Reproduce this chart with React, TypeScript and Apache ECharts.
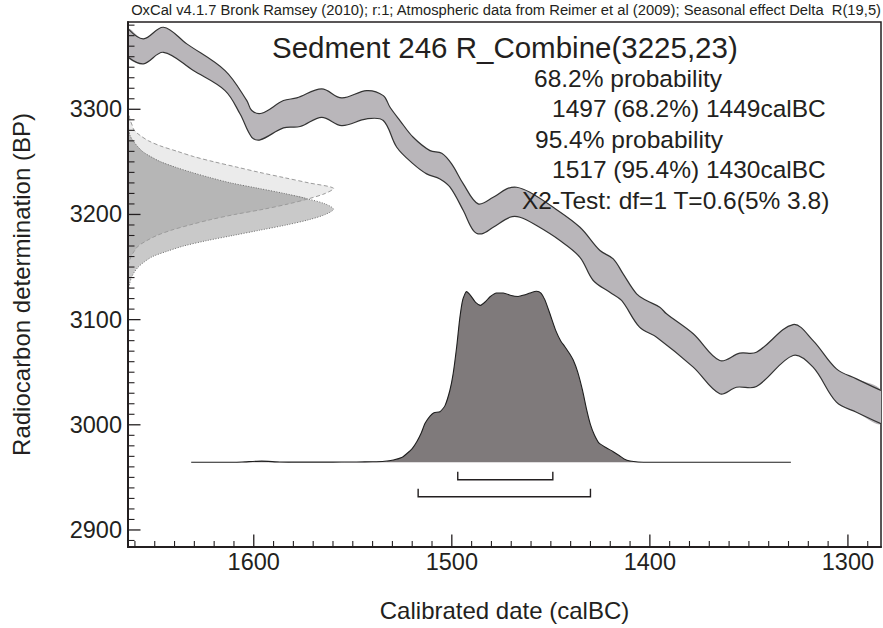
import React, { useEffect, useRef } from 'react';
import * as echarts from 'echarts';

// ---------- texts ----------
const headerText =
  'OxCal v4.1.7 Bronk Ramsey (2010); r:1; Atmospheric data from Reimer et al (2009); Seasonal effect Delta  R(19,5)';
const sampleTitle = 'Sedment 246 R_Combine(3225,23)';
const summaryLines = [
  '68.2% probability',
  '1497 (68.2%) 1449calBC',
  '95.4% probability',
  '1517 (95.4%) 1430calBC',
  'X2-Test: df=1 T=0.6(5% 3.8)',
];
const xAxisTitle = 'Calibrated date (calBC)';
const yAxisTitle = 'Radiocarbon determination (BP)';

// ---------- tick labels ----------
const xTickLabels = [1300, 1400, 1500, 1600];
const yTickLabels = [2900, 3000, 3100, 3200, 3300];

// ---------- calibration curve (1 sigma band), [year calBC, BP] ----------
const curveUpper: number[][] = [
  [1663.4, 3376.4], [1655.7, 3366.9], [1645.6, 3378.0], [1633.8, 3362.2], [1614.5, 3336.8],
  [1603.5, 3308.3], [1601.0, 3298.8], [1596.0, 3296.2], [1585.0, 3308.3], [1578.3, 3310.8],
  [1565.7, 3319.4], [1555.6, 3310.8], [1543.0, 3317.8], [1534.6, 3313.0], [1531.2, 3301.9],
  [1526.2, 3289.3], [1519.5, 3273.4], [1511.0, 3260.7], [1505.1, 3258.2], [1500.1, 3248.1],
  [1494.2, 3229.1], [1486.7, 3210.1], [1479.1, 3216.3], [1472.3, 3224.3], [1467.3, 3225.9],
  [1460.6, 3221.1], [1448.8, 3206.8], [1435.3, 3187.8], [1425.2, 3165.7], [1418.5, 3157.8],
  [1413.5, 3143.5], [1406.7, 3124.5], [1401.7, 3118.2], [1395.0, 3111.8], [1391.6, 3105.5],
  [1378.1, 3086.5], [1364.7, 3061.1], [1354.6, 3068.1], [1346.2, 3069.0], [1327.7, 3095.3],
  [1317.6, 3080.1], [1305.8, 3053.2], [1295.7, 3043.7], [1283.3, 3032.6],
];
const curveLower: number[][] = [
  [1663.4, 3349.4], [1655.7, 3343.2], [1645.6, 3354.2], [1630.5, 3336.8], [1614.5, 3317.8],
  [1606.9, 3295.5], [1601.0, 3273.4], [1596.8, 3270.9], [1585.0, 3282.3], [1576.6, 3283.6],
  [1565.7, 3292.4], [1555.6, 3284.5], [1543.0, 3290.9], [1534.6, 3289.3], [1527.8, 3263.9],
  [1519.5, 3248.1], [1512.7, 3238.6], [1506.0, 3233.8], [1500.9, 3225.9], [1494.2, 3203.7],
  [1489.1, 3184.7], [1484.9, 3181.6], [1479.1, 3187.8], [1470.7, 3197.3], [1465.6, 3197.3],
  [1457.2, 3189.4], [1445.4, 3175.2], [1435.3, 3159.3], [1428.6, 3137.2], [1420.2, 3126.0],
  [1414.3, 3118.2], [1405.2, 3092.8], [1396.6, 3083.3], [1378.1, 3054.8], [1364.7, 3029.5],
  [1356.3, 3035.7], [1346.2, 3036.4], [1327.7, 3065.9], [1317.6, 3054.8], [1305.8, 3021.5],
  [1295.7, 3012.0], [1283.3, 3001.0],
];

// ---------- radiocarbon measurements (relative density against BP) ----------
const priorBP = [
  3300, 3295, 3290, 3285, 3280, 3275, 3270, 3265, 3260, 3255, 3250, 3245, 3240, 3235, 3230,
  3225, 3220, 3215, 3210, 3205, 3200, 3195, 3190, 3185, 3180, 3175, 3170, 3165, 3160, 3155,
  3150, 3145, 3140, 3135, 3130, 3125, 3120,
];
const measuredDensity = [
  0, 0.005, 0.01, 0.02, 0.03, 0.06, 0.1, 0.16, 0.24, 0.32, 0.42, 0.53, 0.64, 0.76, 0.88,
  1.0, 0.96, 0.88, 0.78, 0.66, 0.52, 0.4, 0.3, 0.21, 0.14, 0.09, 0.05, 0.03, 0.015, 0.006,
  0, 0, 0, 0, 0, 0, 0,
];
const correctedDensity = [
  0, 0, 0, 0, 0.005, 0.01, 0.025, 0.045, 0.07, 0.11, 0.16, 0.23, 0.31, 0.4, 0.5,
  0.63, 0.76, 0.87, 0.96, 1.0, 0.96, 0.88, 0.77, 0.64, 0.51, 0.38, 0.27, 0.19, 0.12, 0.08,
  0.05, 0.03, 0.017, 0.009, 0.004, 0.002, 0,
];

// ---------- calibrated probability (relative) ----------
const calYears = [
  1631.6, 1615, 1606, 1596, 1587, 1575, 1560, 1548, 1540, 1534, 1529.5, 1525, 1522.8, 1520,
  1517.7, 1515.5, 1513.5, 1511, 1509, 1506, 1503.5, 1501, 1499.3, 1497.5, 1496, 1494.5,
  1492.6, 1490.5, 1488, 1485.5, 1483, 1480.7, 1477.5, 1474, 1470, 1466.5, 1463.5, 1460.5,
  1457.2, 1455, 1453, 1450.5, 1447.5, 1445, 1442.9, 1440.5, 1438.7, 1436.5, 1434, 1431.9,
  1430, 1428, 1425.5, 1422, 1418.5, 1415.5, 1413, 1410, 1406, 1400, 1328.8,
];
const calProb = [
  0, 0, 0.002, 0.007, 0.002, 0.001, 0.001, 0.002, 0.003, 0.006, 0.014, 0.03, 0.05, 0.08,
  0.12, 0.17, 0.228, 0.27, 0.29, 0.296, 0.33, 0.42, 0.52, 0.68, 0.84, 0.95,
  0.998, 0.975, 0.935, 0.918, 0.94, 0.968, 0.99, 0.99, 0.975, 0.97, 0.978, 0.99,
  1.0, 0.99, 0.95, 0.87, 0.77, 0.71, 0.676, 0.635, 0.598, 0.53, 0.42, 0.306,
  0.22, 0.16, 0.11, 0.085, 0.062, 0.04, 0.02, 0.008, 0.002, 0, 0,
];

// ---------- highest probability ranges ----------
const rangeStart = [1497, 1517];
const rangeEnd = [1449, 1430];

// ---------- layout / style ----------
const FONT = '"Liberation Sans", Arial, Helvetica, sans-serif';
const INK = '#231f20';
const X_MIN = 1283.3;
const X_MAX = 1663.5;
const Y_MIN = 2883.8;
const Y_MAX = 3383;
const DENS_MAX = 3.664;
const PROB_MIN = -0.4953;
const PROB_MAX = 2.575;

const steps = (a: number, b: number, s: number) => {
  const out: number[] = [];
  for (let v = a; v <= b + 1e-9; v += s) out.push(Math.round(v));
  return out;
};
const xTickValues = steps(1290, 1660, 10);
const yTickValues = steps(2890, 3380, 10);

function buildOption(): any {
  const SMOOTH = 0.35;

  const bandRender = (params: any, api: any) => {
    if (params.dataIndex !== 0) return null;
    const up = curveUpper.map((p) => api.coord(p));
    const lo = curveLower.map((p) => api.coord(p));
    return {
      type: 'group',
      children: [
        {
          type: 'polygon',
          shape: { points: up.concat(lo.slice().reverse()), smooth: SMOOTH },
          style: { fill: '#b9b6ba', stroke: null },
        },
        {
          type: 'polyline',
          shape: { points: up, smooth: SMOOTH },
          style: { stroke: '#333', lineWidth: 1.2, fill: null },
        },
        {
          type: 'polyline',
          shape: { points: lo, smooth: SMOOTH },
          style: { stroke: '#333', lineWidth: 1.2, fill: null },
        },
      ],
    };
  };

  const priorRender = (params: any, api: any) => {
    if (params.dataIndex !== 0) return null;
    const pt = (d: number, bp: number) => api.coord([d, bp]);
    const light = priorBP.map((bp, i) => pt(measuredDensity[i], bp));
    const dark = priorBP.map((bp, i) => pt(correctedDensity[i], bp));
    const both = priorBP.map((bp, i) =>
      pt(Math.min(measuredDensity[i], correctedDensity[i]), bp)
    );
    const close = (pts: number[][]) => [
      pt(0, priorBP[0]),
      ...pts,
      pt(0, priorBP[priorBP.length - 1]),
    ];
    return {
      type: 'group',
      children: [
        { type: 'polygon', shape: { points: close(light), smooth: 0.3 }, style: { fill: '#ebebeb' } },
        { type: 'polygon', shape: { points: close(dark), smooth: 0.3 }, style: { fill: '#c9c9c9' } },
        { type: 'polygon', shape: { points: close(both), smooth: 0.3 }, style: { fill: '#b6b6b6' } },
        {
          type: 'polyline',
          shape: { points: light, smooth: 0.3 },
          style: { stroke: '#9b9b9b', lineWidth: 1, lineDash: [4, 2.5], fill: null },
        },
        {
          type: 'polyline',
          shape: { points: dark, smooth: 0.3 },
          style: { stroke: '#6e6e6e', lineWidth: 1, lineDash: [1, 1.6], fill: null },
        },
      ],
    };
  };

  const bracketRender = (params: any, api: any) => {
    const a = api.coord([api.value(0), 0]);
    const b = api.coord([api.value(1), 0]);
    const lvl = api.value(2);
    const y = a[1] + 17.5 + lvl * 17;
    return {
      type: 'polyline',
      shape: { points: [[a[0], y - 8], [a[0], y], [b[0], y], [b[0], y - 8]] },
      style: { stroke: INK, lineWidth: 1.4, fill: null },
    };
  };

  // inward axis ticks, placed through the axes' own scales
  const xTickRender = (params: any, api: any) => {
    const cs = params.coordSys;
    const px = api.coord([api.value(0), Y_MIN])[0];
    const major = api.value(1) === 1;
    const yb = cs.y + cs.height;
    return {
      type: 'line',
      shape: { x1: px, y1: yb, x2: px, y2: yb - (major ? 12.5 : 6) },
      style: { stroke: INK, lineWidth: major ? 1.3 : 1.1 },
    };
  };
  const yTickRender = (params: any, api: any) => {
    const cs = params.coordSys;
    const py = api.coord([X_MAX, api.value(0)])[1];
    const major = api.value(1) === 1;
    return {
      type: 'line',
      shape: { x1: cs.x, y1: py, x2: cs.x + (major ? 12.5 : 6.5), y2: py },
      style: { stroke: INK, lineWidth: major ? 1.3 : 1.1 },
    };
  };

  const summaryPos = [
    [534, 78.5],
    [552, 108.5],
    [535, 139],
    [552, 169.5],
    [522, 200],
  ];

  const labelStyle = { fontSize: 23.5, fontFamily: FONT, color: INK, formatter: (v: number) => String(v) };

  return {
    animation: false,
    backgroundColor: '#ffffff',
    grid: {
      left: 128,
      right: 2,
      top: 22,
      bottom: 81,
      show: true,
      borderColor: INK,
      borderWidth: 1.5,
      backgroundColor: 'transparent',
    },
    xAxis: [
      {
        type: 'value',
        min: X_MIN,
        max: X_MAX,
        inverse: true,
        position: 'bottom',
        axisLine: { show: true, onZero: false, lineStyle: { color: INK, width: 2 } },
        axisTick: { show: false },
        axisLabel: { show: true, customValues: xTickLabels, margin: 3, ...labelStyle },
        splitLine: { show: false },
        name: xAxisTitle,
        nameLocation: 'middle',
        nameGap: 51,
        nameTextStyle: { fontSize: 24, fontFamily: FONT, color: INK },
        z: 10,
      },
      {
        type: 'value',
        min: 0,
        max: DENS_MAX,
        position: 'top',
        show: false,
        axisLine: { onZero: false },
        splitLine: { show: false },
      },
    ],
    yAxis: [
      {
        type: 'value',
        min: Y_MIN,
        max: Y_MAX,
        position: 'left',
        axisLine: { show: true, onZero: false, lineStyle: { color: INK, width: 2 } },
        axisTick: { show: false },
        axisLabel: { show: true, customValues: yTickLabels, margin: 6, ...labelStyle },
        splitLine: { show: false },
        name: yAxisTitle,
        nameLocation: 'middle',
        nameGap: 95,
        nameTextStyle: { fontSize: 24, fontFamily: FONT, color: INK },
        z: 10,
      },
      {
        type: 'value',
        min: PROB_MIN,
        max: PROB_MAX,
        position: 'right',
        show: false,
        axisLine: { onZero: false },
        splitLine: { show: false },
      },
    ],
    series: [
      {
        type: 'custom',
        name: 'IntCal09 curve',
        xAxisIndex: 0,
        yAxisIndex: 0,
        clip: true,
        data: curveUpper,
        encode: { x: 0, y: 1 },
        renderItem: bandRender,
        z: 2,
      },
      {
        type: 'custom',
        name: 'R_Combine',
        xAxisIndex: 1,
        yAxisIndex: 0,
        clip: true,
        data: priorBP.map((bp, i) => [measuredDensity[i], bp]),
        encode: { x: 0, y: 1 },
        renderItem: priorRender,
        z: 3,
      },
      {
        type: 'line',
        name: 'Calibrated',
        xAxisIndex: 0,
        yAxisIndex: 1,
        data: calYears.map((yr, i) => [yr, calProb[i]]),
        smooth: 0.2,
        symbol: 'none',
        showSymbol: false,
        lineStyle: { color: '#1e1e1e', width: 1.1 },
        areaStyle: { color: '#7f7a7b', opacity: 1, origin: 0 },
        z: 4,
      },
      {
        type: 'custom',
        name: 'Ranges',
        xAxisIndex: 0,
        yAxisIndex: 1,
        data: rangeStart.map((s, i) => [s, rangeEnd[i], i]),
        encode: { x: [0, 1] },
        renderItem: bracketRender,
        z: 5,
      },
      {
        type: 'custom',
        name: 'x ticks',
        xAxisIndex: 0,
        yAxisIndex: 0,
        silent: true,
        data: xTickValues.map((v) => [v, xTickLabels.indexOf(v) >= 0 ? 1 : 0]),
        encode: { x: 0 },
        renderItem: xTickRender,
        z: 12,
      },
      {
        type: 'custom',
        name: 'y ticks',
        xAxisIndex: 0,
        yAxisIndex: 0,
        silent: true,
        data: yTickValues.map((v) => [v, yTickLabels.indexOf(v) >= 0 ? 1 : 0]),
        encode: { y: 0 },
        renderItem: yTickRender,
        z: 12,
      },
    ],
    graphic: [
      {
        type: 'text',
        x: 881,
        y: 10,
        z: 20,
        style: {
          text: headerText,
          fontSize: 14.75,
          fontFamily: FONT,
          fill: INK,
          align: 'right',
          textAlign: 'right',
          verticalAlign: 'middle',
          textVerticalAlign: 'middle',
        },
      },
      {
        type: 'text',
        x: 272,
        y: 47,
        z: 20,
        style: {
          text: sampleTitle,
          fontSize: 29.5,
          fontFamily: FONT,
          fill: INK,
          align: 'left',
          textAlign: 'left',
          verticalAlign: 'middle',
          textVerticalAlign: 'middle',
        },
      },
      ...summaryLines.map((t, i) => ({
        type: 'text',
        x: summaryPos[i][0],
        y: summaryPos[i][1],
        z: 20,
        style: {
          text: t,
          fontSize: 24.5,
          fontFamily: FONT,
          fill: INK,
          align: 'left',
          textAlign: 'left',
          verticalAlign: 'middle',
          textVerticalAlign: 'middle',
        },
      })),
    ],
  };
}

export default function App() {
  const ref = useRef<HTMLDivElement>(null);
  useEffect(() => {
    if (!ref.current) return;
    const chart = echarts.init(ref.current, null, { renderer: 'svg' });
    chart.setOption(buildOption());
    return () => chart.dispose();
  }, []);
  return (
    <div
      ref={ref}
      style={{ position: 'absolute', left: 0, top: 0, width: 883, height: 628, background: '#fff' }}
    />
  );
}
